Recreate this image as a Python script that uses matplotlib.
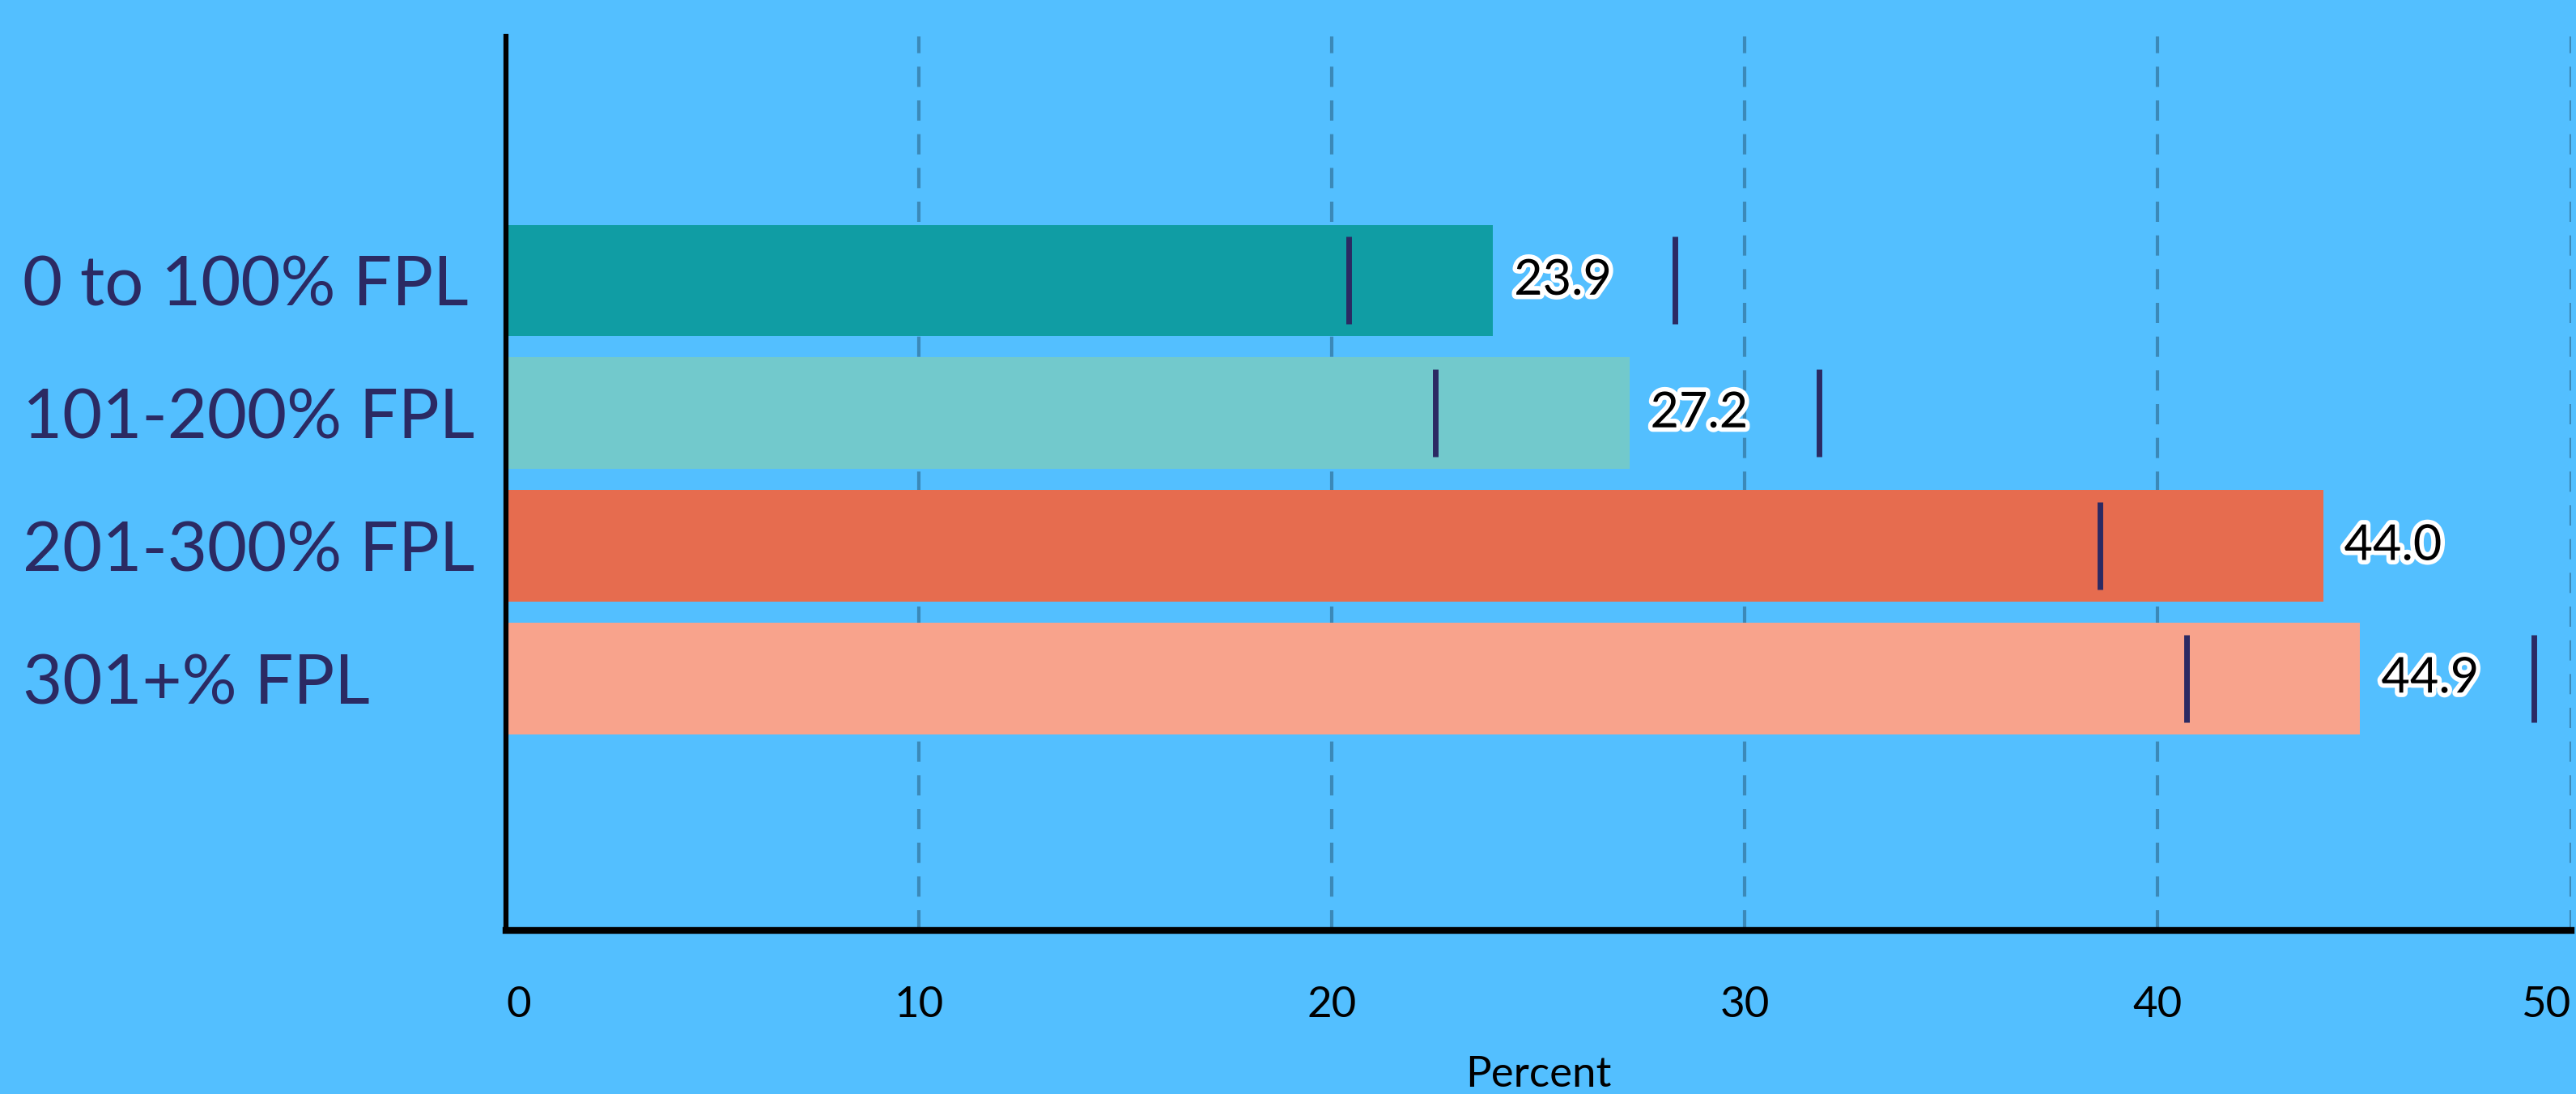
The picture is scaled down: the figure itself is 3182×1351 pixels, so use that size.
import matplotlib
matplotlib.use("Agg")
import matplotlib.pyplot as plt
import matplotlib.patheffects as pe
import numpy as np

plt.rcParams['font.family'] = ['Lato', 'DejaVu Sans']

# data
groups = ['0 to 100% FPL', '101-200% FPL', '201-300% FPL', '301+% FPL']
values = [23.9, 27.2, 44.0, 44.9]
ci_low = [20.4, 22.5, 38.6, 40.7]
ci_high = [28.3, 31.8, np.nan, 49.1]
x_ticks = [0, 10, 20, 30, 40, 50]

bg = '#53bfff'
bar_colors = ['#109da4', '#72c9cc', '#e66c4f', '#f8a38c']
navy = '#2b2a63'

fig = plt.figure(figsize=(31.82, 13.51), dpi=100, facecolor=bg)
ax = fig.add_axes([0.1964, 0.1495, 0.8016, 0.8172])
ax.set_facecolor(bg)

y = np.arange(len(groups))
ax.barh(y, values, height=0.84, color=bar_colors, zorder=2)

# confidence interval ticks
half = 0.33
ax.vlines(ci_low, y - half, y + half, color=navy, lw=5, zorder=3)
ax.vlines(ci_high, y - half, y + half, color=navy, lw=5, zorder=3)

for yi, v in zip(y, values):
    ax.annotate(f'{v:.1f}', (v, yi), xytext=(26, 0), textcoords='offset pixels',
                ha='left', va='center', fontsize=44, color='black', zorder=4,
                path_effects=[pe.withStroke(linewidth=8, foreground='white')])

ax.set_xlim(0, 50)
ax.set_ylim(4.9, -1.84)
ax.set_yticks(y)
ax.set_yticklabels(groups, fontsize=61, color=navy, ha='left',
                   va='center_baseline')
ax.set_xticks(x_ticks)
ax.set_xticklabels([str(t) for t in x_ticks], fontsize=38, color='black')
labels = ax.get_xticklabels()
labels[0].set_ha('left')
labels[-1].set_ha('right')
ax.tick_params(axis='y', length=0, pad=430)
ax.tick_params(axis='x', length=0, pad=50)
ax.set_xlabel('Percent', fontsize=38, labelpad=28)

ax.grid(axis='x', color='#3b89b8', lw=3, linestyle=(0, (6, 4)), zorder=1)
ax.set_axisbelow(True)

for s in ['top', 'right']:
    ax.spines[s].set_visible(False)
ax.spines['left'].set_linewidth(4.5)
ax.spines['bottom'].set_linewidth(6)

fig.savefig('out.png', dpi=100, facecolor=bg)
